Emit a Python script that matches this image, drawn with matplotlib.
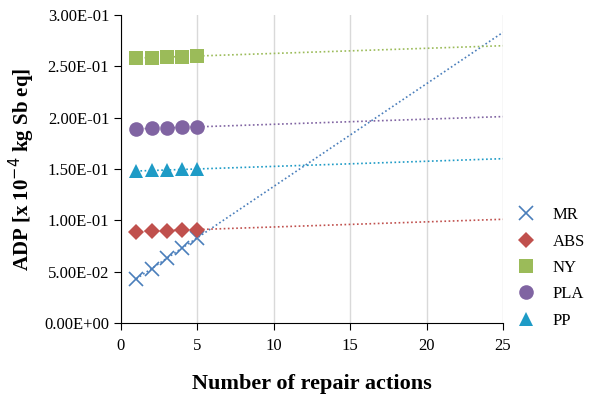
import numpy as np
import matplotlib
matplotlib.use("Agg")
import matplotlib.pyplot as plt
from matplotlib.ticker import FuncFormatter

repairs = [1, 2, 3, 4, 5]
series_names = ["MR", "ABS", "NY", "PLA", "PP"]
mr = [0.043, 0.053, 0.063, 0.073, 0.083]
abs_ = [0.0890, 0.0895, 0.0900, 0.0905, 0.0910]
ny = [0.2580, 0.2585, 0.2590, 0.2595, 0.2600]
pla = [0.1890, 0.1895, 0.1900, 0.1905, 0.1910]
pp = [0.1480, 0.1485, 0.1490, 0.1495, 0.1500]
values = [mr, abs_, ny, pla, pp]
colors = ["#4A7EBB", "#C0504D", "#9BBB59", "#8064A2", "#1E9BC6"]
markers = ["x", "D", "s", "o", "^"]
msizes = [10, 8.5, 9.5, 10.5, 10]

plt.rcParams['font.family'] = ['Liberation Serif', 'DejaVu Serif']
fig = plt.figure(figsize=(5.91, 4.03), dpi=100)
ax = fig.add_axes([0.2047, 0.1985, 0.851 - 0.2047, 0.963 - 0.1985])

xfit = np.array([1, 25])
for name, vals, c, m, ms in zip(series_names, values, colors, markers, msizes):
    coef = np.polyfit(repairs, vals, 1)
    ax.plot(xfit, np.polyval(coef, xfit), linestyle=(0, (1, 1.5)), color=c, lw=1.2, zorder=2)
    ax.plot(repairs, vals, linestyle='none', marker=m, color=c, markersize=ms,
            markeredgewidth=1.2 if m == 'x' else 0, label=name, zorder=3)

ax.set_xlim(0, 25)
ax.set_ylim(0, 0.3)
ax.set_xticks([0, 5, 10, 15, 20, 25])
ax.set_yticks(np.arange(0, 0.31, 0.05))
ax.yaxis.set_major_formatter(FuncFormatter(lambda v, p: f"{v:.2E}"))
ax.grid(axis='x', color='#D9D9D9', lw=1)
ax.set_axisbelow(True)
for s in ['top', 'right']:
    ax.spines[s].set_visible(False)
ax.spines['left'].set_color('black')
ax.spines['bottom'].set_color('black')
ax.tick_params(axis='both', direction='out', length=5, labelsize=12, colors='black')
ax.tick_params(axis='x', pad=6)

ax.set_xlabel("Number of repair actions", fontsize=16, fontweight='bold', labelpad=14)
ax.set_ylabel("ADP [x 10$^{-4}$ kg Sb eq]", fontsize=15, fontweight='bold', labelpad=5)

leg = ax.legend(loc='center left', bbox_to_anchor=(1.0, 0.179), frameon=False,
                fontsize=12, handletextpad=0.6, labelspacing=0.62, borderaxespad=0)

fig.savefig("out.png", dpi=100)
